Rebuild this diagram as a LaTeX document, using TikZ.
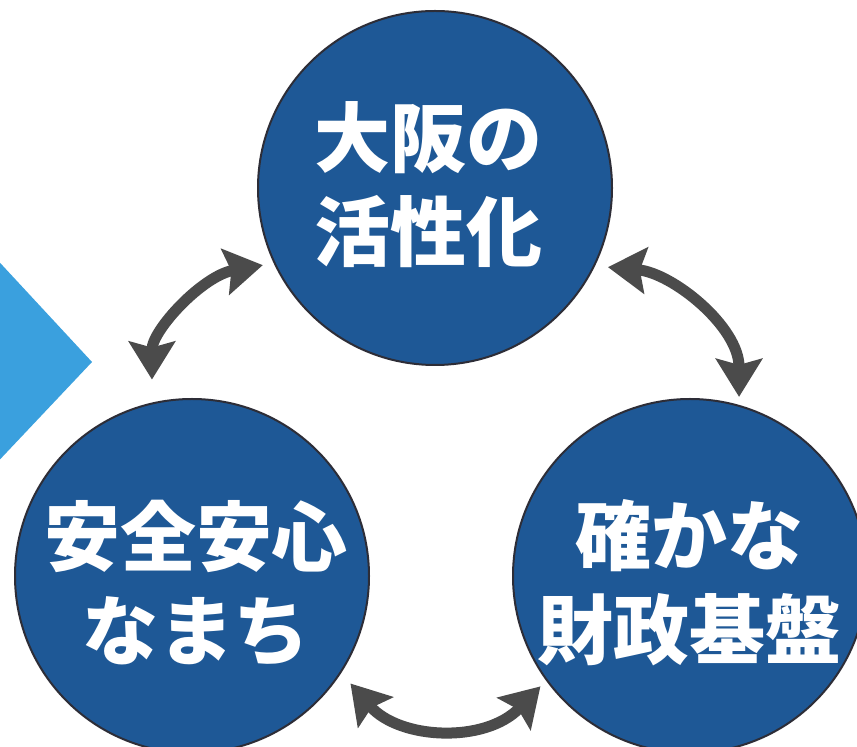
\documentclass[tikz,border=0pt]{standalone}
\usepackage{fontspec}
\newfontfamily\jp{Noto Sans CJK JP}
\usetikzlibrary{arrows.meta}
\definecolor{discblue}{RGB}{30,88,150}
\definecolor{chevblue}{RGB}{58,160,222}
\definecolor{arrgray}{RGB}{75,75,75}
\definecolor{rimgray}{RGB}{45,45,55}
\begin{document}
\begin{tikzpicture}[x=1pt,y=1pt,
  disc/.style={circle, fill=discblue, draw=rimgray, line width=2pt,
    minimum size=354pt, inner sep=0pt},
  disctext/.style={text=white, font=\jp\bfseries\fontsize{76}{94}\selectfont,
    align=center, inner sep=0pt},
  cyc/.style={draw=arrgray, line width=11pt,
    {Stealth[length=38pt,width=46pt,inset=6pt]}-{Stealth[length=38pt,width=46pt,inset=6pt]}}]
\useasboundingbox (0,0) rectangle (857,747);
\clip (0,0) rectangle (857,747);
\fill[white] (0,0) rectangle (857,747);
% light blue chevron at the left
\fill[chevblue] (-10,495) -- (92,385) -- (-10,277) -- cycle;
% discs
\node[disc] (act) at (435,559) {};
\node[disc] (safe) at (192,171) {};
\node[disc] (fin) at (690,171) {};
\node[disctext] (acttext) at (428,562) {大阪の\\活性化};
\node[disctext] (safetext) at (196,164) {安全安心\\なまち};
\node[disctext] (fintext) at (689,164) {確かな\\財政基盤};
% cycle arrows
\draw[cyc, shorten <=11pt, shorten >=23pt] (act.205) to[out=190,in=90] (safe.103);
\draw[cyc, shorten <=13pt, shorten >=8pt] (act.334) to[out=-5,in=90] (fin.74);
\draw[cyc, shorten <=14pt, shorten >=8pt] (safe.327) to[out=311,in=226,looseness=1.1] (fin.216);
\end{tikzpicture}
\end{document}
